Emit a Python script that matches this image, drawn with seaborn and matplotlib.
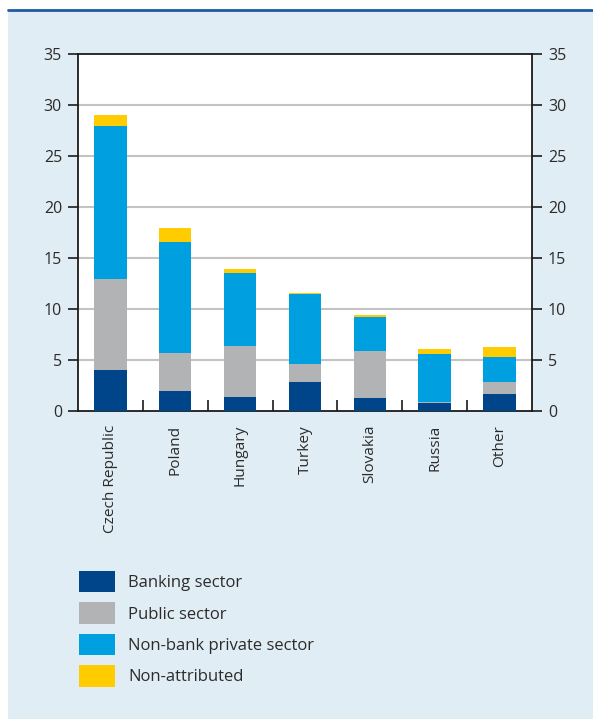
import matplotlib
matplotlib.use("Agg")
import matplotlib.pyplot as plt
from matplotlib.patches import Rectangle, Patch
from matplotlib.lines import Line2D
from matplotlib.ticker import FixedLocator, MultipleLocator
import numpy as np
import pandas as pd
import seaborn as sns

# Data (EUR billions, by holder sector)
countries = ["Czech Republic", "Poland", "Hungary", "Turkey", "Slovakia", "Russia", "Other"]
banking = [4.0, 2.0, 1.4, 2.85, 1.3, 0.8, 1.7]
public = [8.9, 3.7, 5.0, 1.75, 4.6, 0.1, 1.1]
nonbank_private = [15.0, 10.9, 7.1, 6.9, 3.35, 4.7, 2.45]
non_attributed = [1.1, 1.3, 0.4, 0.1, 0.2, 0.5, 1.0]

series_names = ["Banking sector", "Public sector", "Non-bank private sector", "Non-attributed"]
series_values = [banking, public, nonbank_private, non_attributed]
series_colors = ["#00448a", "#b2b3b5", "#009fe0", "#ffcc00"]

sns.set_style("white")
plt.rcParams["font.family"] = ["Open Sans", "DejaVu Sans"]
text_color = "#2b2b2b"

W, H = 593, 719
fig = plt.figure(figsize=(W / 100, H / 100), dpi=100)
fig.patch.set_facecolor("white")

# Light blue panel with a dark blue rule on top
fig.patches.append(Rectangle((8 / W, 0), 1 - 8 / W, (H - 11) / H,
                             transform=fig.transFigure, facecolor="#e1edf4",
                             edgecolor="none", zorder=-10))
fig.lines.append(Line2D([8 / W, 1], [(H - 10) / H, (H - 10) / H],
                        transform=fig.transFigure, color="#1d5c9e", lw=2.0, zorder=-9))

left, right, top, bottom = 78, 532, 54, 411
ax = fig.add_axes([left / W, (H - bottom) / H, (right - left) / W, (bottom - top) / H])
ax.set_facecolor("white")

# Stacked bars: draw cumulative totals from the top segment down
df = pd.DataFrame({"country": countries})
cum = np.zeros(len(countries))
cums = []
for vals in series_values:
    cum = cum + np.array(vals)
    cums.append(cum.copy())
for name, c, color in reversed(list(zip(series_names, cums, series_colors))):
    df[name] = c
    sns.barplot(data=df, x="country", y=name, order=countries, color=color,
                width=0.5, saturation=1, ax=ax, zorder=3, edgecolor="none", linewidth=0)

ax.set_xlim(-0.5, len(countries) - 0.5)
ax.set_ylim(0, 35)
ax.set_xlabel("")
ax.set_ylabel("")

ax.yaxis.set_major_locator(MultipleLocator(5))
for y in range(5, 35, 5):
    ax.axhline(y, color="#c3c3c3", lw=1.5, zorder=1)

for s in ax.spines.values():
    s.set_visible(True)
    s.set_color("#1a1a1a")
    s.set_linewidth(1.3)

ax.tick_params(axis="y", which="major", direction="out", length=7.5, width=1.2,
               color="#1a1a1a", left=True, right=True, labelleft=True, labelright=True,
               labelsize=11.5, labelcolor=text_color, pad=4)
ax.tick_params(axis="x", which="major", length=0, pad=10, labelsize=11.1,
               labelcolor=text_color, labelrotation=90)
ax.xaxis.set_minor_locator(FixedLocator(np.arange(0.5, len(countries) - 1, 1.0)))
ax.tick_params(axis="x", which="minor", direction="in", length=8, width=1.2,
               color="#1a1a1a", bottom=True)
for lab in ax.get_xticklabels():
    lab.set_verticalalignment("top")

handles = [Patch(facecolor=c, edgecolor="none") for c in series_colors]
fig.legend(handles, series_names, loc="upper left",
           bbox_to_anchor=(79 / W, 1 - 571 / H), bbox_transform=fig.transFigure,
           frameon=False, fontsize=12, labelcolor=text_color,
           handlelength=2.15, handleheight=1.6, handletextpad=0.8,
           labelspacing=0.6, borderaxespad=0, borderpad=0)

fig.savefig("out.png", dpi=100, facecolor=fig.get_facecolor())
